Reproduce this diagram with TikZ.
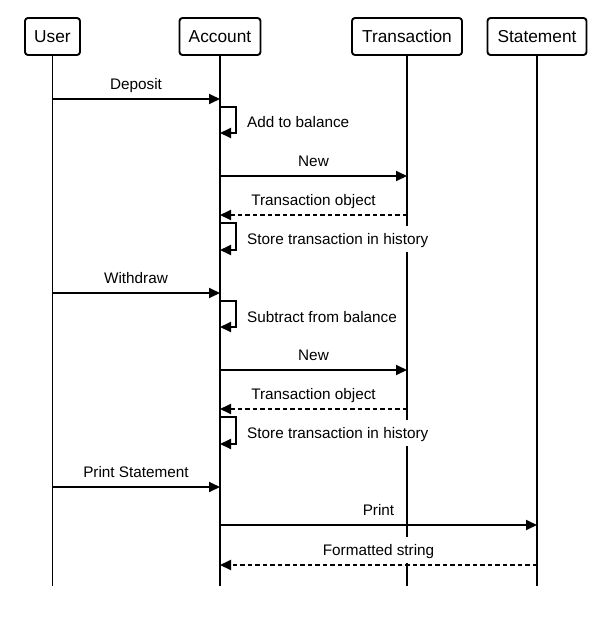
\documentclass[tikz,border=0pt]{standalone}
\usepackage{fontspec}
\setmainfont{Liberation Sans}
\usetikzlibrary{arrows.meta}
\tikzset{
  actor/.style={draw, line width=1.9pt, rounded corners=3pt, fill=white, minimum height=37pt, inner sep=0pt, font=\fontsize{17.3}{20}\selectfont},
  life/.style={line width=1.9pt},
  msg/.style={line width=1.9pt, -{Triangle[length=11pt,width=10pt]}},
  ret/.style={msg, dash pattern=on 4.5pt off 3pt},
  lbl/.style={fill=white, inner xsep=2pt, inner ysep=4pt, text height=14pt, text depth=4pt, font=\fontsize{15.3}{18}\selectfont},
}
\begin{document}
\begin{tikzpicture}[x=1pt,y=-1pt]
\useasboundingbox (0,0) rectangle (605,624);
% lifeline ends
\coordinate (userEnd) at (52.5,586);
\coordinate (accEnd) at (220,586);
\coordinate (trEnd) at (407,586);
\coordinate (stEnd) at (537,586);
% actors
\node[actor, minimum width=55pt] (user) at (52.5,36.5) {User};
\node[actor, minimum width=81pt] (account) at (220,36.5) {Account};
\node[actor, minimum width=110pt] (trans) at (407,36.5) {Transaction};
\node[actor, minimum width=99pt] (stmt) at (537,36.5) {Statement};
% lifelines
\draw[life] (user.south) -- (userEnd);
\draw[life] (account.south) -- (accEnd);
\draw[life] (trans.south) -- (trEnd);
\draw[life] (stmt.south) -- (stEnd);
% message labels
\node[lbl, anchor=base] (l1) at (136,89) {Deposit};
\node[lbl, anchor=base west] (l2) at (245,127) {Add to balance};
\node[lbl, anchor=base] (l3) at (313.5,166) {New};
\node[lbl, anchor=base] (l4) at (313.5,205) {Transaction object};
\node[lbl, anchor=base west] (l5) at (245,244) {Store transaction in history};
\node[lbl, anchor=base] (l6) at (136,283) {Withdraw};
\node[lbl, anchor=base west] (l7) at (245,322) {Subtract from balance};
\node[lbl, anchor=base] (l8) at (313.5,360) {New};
\node[lbl, anchor=base] (l9) at (313.5,399) {Transaction object};
\node[lbl, anchor=base west] (l10) at (245,438) {Store transaction in history};
\node[lbl, anchor=base] (l11) at (136,477) {Print Statement};
\node[lbl, anchor=base] (l12) at (378.5,515) {Print};
\node[lbl, anchor=base] (l13) at (378.5,555) {Formatted string};
% messages
\draw[msg] (user |- 0,99) -- (account |- 0,99);
\draw[msg] (account |- 0,107) -| (236,133) -- (account |- 0,133);
\draw[msg] (account |- 0,176) -- (trans |- 0,176);
\draw[ret] (trans |- 0,215) -- (account |- 0,215);
\draw[msg] (account |- 0,223) -| (236,250) -- (account |- 0,250);
\draw[msg] (user |- 0,293) -- (account |- 0,293);
\draw[msg] (account |- 0,301) -| (236,327) -- (account |- 0,327);
\draw[msg] (account |- 0,370) -- (trans |- 0,370);
\draw[ret] (trans |- 0,409) -- (account |- 0,409);
\draw[msg] (account |- 0,417) -| (236,444) -- (account |- 0,444);
\draw[msg] (user |- 0,487) -- (account |- 0,487);
\draw[msg] (account |- 0,525) -- (stmt |- 0,525);
\draw[ret] (stmt |- 0,565) -- (account |- 0,565);
\end{tikzpicture}
\end{document}
